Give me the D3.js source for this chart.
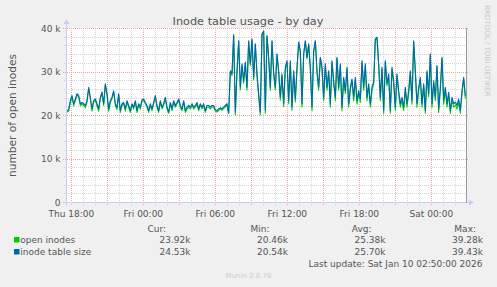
<!DOCTYPE html>
<html>
<head>
<meta charset="utf-8">
<script src="https://cdn.jsdelivr.net/npm/d3@7"></script>
<style>
body { margin: 0; background: #f0f0f0; }
text { font-family: "DejaVu Sans", sans-serif; }
</style>
</head>
<body>
<svg id="chart" width="497" height="287"></svg>
<script>
// values in thousands, one sample every 500 s, the last one at the last update
var openInodes = [
  20.8, 21.0, 23.0, 24.3, 22.2, 23.5, 24.7, 24.3, 22.3, 22.7,
  22.3, 21.8, 23.1, 26.2, 23.8, 21.0, 23.1, 23.5, 22.3, 21.0,
  23.9, 25.1, 22.3, 27.0, 24.7, 21.0, 23.0, 23.9, 25.4, 22.3,
  21.4, 24.7, 20.7, 22.3, 22.7, 21.0, 23.1, 21.9, 20.7, 22.4,
  21.5, 23.1, 20.7, 22.4, 21.5, 23.3, 23.5, 22.7, 21.9, 20.7,
  22.4, 21.1, 22.7, 24.3, 21.9, 20.7, 23.1, 21.5, 22.4, 23.9,
  21.5, 20.5, 22.7, 21.1, 23.1, 21.9, 22.7, 23.5, 21.9, 21.1,
  23.1, 20.7, 21.5, 21.9, 21.5, 22.4, 21.5, 21.9, 22.7, 21.1,
  22.4, 21.5, 22.4, 20.7, 21.9, 21.9, 21.5, 21.9, 22.0, 21.0,
  20.8, 21.2, 21.5, 21.2, 21.6, 22.0, 22.4, 20.46,
  29.9, 29.2, 38.4, 20.1, 29.9, 37.0, 25.9, 31.5, 27.4, 32.0,
  25.8, 37.0, 31.5, 37.4, 28.2, 36.3, 29.1, 24.3, 20.1, 38.6,
  39.28, 20.5, 38.2, 33.0, 25.8, 37.0, 29.4, 25.9, 33.9, 29.8,
  23.5, 29.1, 22.0, 30.7, 32.3, 22.7, 32.2, 21.2, 29.8, 23.1,
  30.7, 36.6, 34.6, 21.9, 33.9, 37.0, 33.0, 36.3, 30.6, 21.1,
  34.6, 37.0, 29.8, 25.8, 33.1, 30.6, 23.4, 31.5, 25.8, 29.8,
  21.9, 32.3, 27.4, 23.4, 33.1, 25.8, 31.5, 21.1, 28.2, 25.0,
  30.7, 21.9, 25.8, 27.9, 23.4, 28.2, 22.6, 25.0, 23.0, 32.3,
  25.8, 31.5, 23.4, 26.8, 21.9, 25.8, 27.2, 37.4, 37.8, 31.5,
  23.4, 30.7, 20.5, 32.3, 26.8, 29.1, 20.5, 30.7, 27.4, 21.1,
  29.1, 25.0, 21.9, 23.5, 21.1, 25.8, 21.9, 25.0, 29.8, 22.6,
  37.0, 29.8, 21.9, 25.8, 28.2, 21.9, 26.8, 20.5, 29.8, 24.3,
  33.9, 21.9, 27.4, 23.4, 31.2, 20.7, 25.8, 33.1, 22.6, 25.8,
  21.9, 24.7, 20.5, 23.5, 21.9, 22.4, 21.5, 23.1, 20.5, 25.1,
  28.4, 23.92
];
var tableSize = [
  21.1, 21.3, 23.4, 24.6, 22.7, 23.8, 25.0, 24.6, 22.7, 23.0,
  22.7, 22.3, 23.4, 26.5, 24.2, 21.5, 23.4, 23.8, 22.7, 21.5,
  24.2, 25.4, 22.7, 27.3, 25.0, 21.5, 23.4, 24.2, 25.7, 22.7,
  21.9, 25.0, 21.1, 22.7, 23.0, 21.5, 23.4, 22.3, 21.1, 22.7,
  21.9, 23.4, 21.1, 22.7, 21.9, 23.6, 23.8, 23.0, 22.3, 21.1,
  22.7, 21.5, 23.0, 24.6, 22.3, 21.1, 23.4, 21.9, 22.7, 24.2,
  21.9, 20.8, 23.0, 21.5, 23.4, 22.3, 23.0, 23.8, 22.3, 21.5,
  23.4, 21.1, 21.9, 22.3, 21.9, 22.7, 21.9, 22.3, 23.0, 21.5,
  22.7, 21.9, 22.7, 21.1, 22.3, 22.3, 21.9, 22.3, 22.3, 21.3,
  21.1, 21.5, 21.8, 21.5, 21.9, 22.3, 22.7, 20.54,
  30.3, 29.6, 38.6, 20.8, 30.3, 37.2, 26.5, 31.9, 28.0, 32.3,
  26.5, 37.2, 31.9, 37.6, 28.8, 36.5, 29.6, 25.0, 20.8, 38.8,
  39.43, 21.2, 38.4, 33.4, 26.5, 37.2, 29.9, 26.5, 34.2, 30.3,
  24.2, 29.6, 22.7, 31.1, 32.6, 23.4, 32.6, 21.9, 30.3, 23.8,
  31.1, 36.9, 34.9, 22.7, 34.2, 37.2, 33.4, 36.5, 31.1, 21.9,
  34.9, 37.2, 30.3, 26.5, 33.4, 31.1, 24.2, 31.9, 26.5, 30.3,
  22.7, 32.6, 28.0, 24.2, 33.4, 26.5, 31.9, 21.9, 28.8, 25.7,
  31.1, 22.7, 26.5, 28.4, 24.2, 28.8, 23.4, 25.7, 23.8, 32.6,
  26.5, 31.9, 24.2, 27.3, 22.7, 26.5, 27.7, 37.6, 38.0, 31.9,
  24.2, 31.1, 21.2, 32.6, 27.3, 29.6, 21.2, 31.1, 28.0, 21.9,
  29.6, 25.7, 22.7, 24.2, 21.9, 26.5, 22.7, 25.7, 30.3, 23.4,
  37.2, 30.3, 22.7, 26.5, 28.8, 22.7, 27.3, 21.2, 30.3, 25.0,
  34.2, 22.7, 28.0, 24.2, 31.5, 21.5, 26.5, 33.4, 23.4, 26.5,
  22.7, 25.4, 21.2, 24.2, 22.7, 23.1, 22.3, 23.8, 21.2, 25.7,
  28.8, 24.53
];
var seriesNames = ["open inodes", "inode table size"];
var seriesColors = ["#00cc00", "#0066b3"];
var statHeads = ["Cur:", "Min:", "Avg:", "Max:"];
var statOpen = ["23.92k", "20.46k", "25.38k", "39.28k"];
var statSize = ["24.53k", "20.54k", "25.70k", "39.43k"];
var yTicks = [0, 10000, 20000, 30000, 40000];
var lastUpdate = new Date(2026, 0, 10, 2, 50, 0);
var stepSec = 500;

var svg = d3.select("#chart");
var n = tableSize.length;
var t0 = new Date(+lastUpdate - (n - 1) * stepSec * 1000);
var x = d3.scaleTime()
	.domain([t0, new Date(+t0 + 400 * 300 * 1000)])
	.range([67, 467]);
var y = d3.scaleLinear().domain([0, 40000]).range([202.5, 28.5]);
var px = function(v) { return Math.floor(v) + 0.5; };

svg.append("rect").attr("width", 497).attr("height", 287).attr("fill", "#f0f0f0");
svg.append("rect")
	.attr("x", 67).attr("y", 28)
	.attr("width", 400).attr("height", 175)
	.attr("fill", "#ffffff");

// grid
var grid = svg.append("g").attr("shape-rendering", "crispEdges");
var hours = x.ticks(d3.timeHour.every(1));
var minorY = d3.range(0, 40001, 2000);

grid.selectAll("line.vmin").data(hours.filter(function(d) { return d.getHours() % 3; }))
	.enter().append("line")
	.attr("x1", function(d) { return px(x(d)); })
	.attr("x2", function(d) { return px(x(d)); })
	.attr("y1", 28).attr("y2", 205)
	.attr("stroke", "#d2d2d2").attr("stroke-dasharray", "1,1");
grid.selectAll("line.hmin").data(minorY.filter(function(d) { return d % 10000; }))
	.enter().append("line")
	.attr("x1", 64).attr("x2", 468)
	.attr("y1", function(d) { return px(y(d)); })
	.attr("y2", function(d) { return px(y(d)); })
	.attr("stroke", "#d2d2d2").attr("stroke-dasharray", "1,1");
grid.selectAll("line.vmaj").data(hours.filter(function(d) { return d.getHours() % 3 == 0; }))
	.enter().append("line")
	.attr("x1", function(d) { return px(x(d)); })
	.attr("x2", function(d) { return px(x(d)); })
	.attr("y1", 28).attr("y2", 206)
	.attr("stroke", "#eda5a5").attr("stroke-dasharray", "1,1");
grid.selectAll("line.hmaj").data(yTicks.filter(function(d) { return d > 0; }))
	.enter().append("line")
	.attr("x1", 63).attr("x2", 469)
	.attr("y1", function(d) { return px(y(d)); })
	.attr("y2", function(d) { return px(y(d)); })
	.attr("stroke", "#eda5a5").attr("stroke-dasharray", "1,1");

// series, green first, blue on top
var series = [openInodes, tableSize];
var line = d3.line()
	.x(function(d, i) { return x(new Date(+t0 + i * stepSec * 1000)); })
	.y(function(d) { return y(d * 1000); });
svg.selectAll("path.series").data(series)
	.enter().append("path")
	.attr("class", "series")
	.attr("d", line)
	.attr("fill", "none")
	.attr("stroke", function(d, i) { return seriesColors[i]; })
	.attr("stroke-width", 1.1)
	.attr("stroke-linejoin", "round");

// axes and frame
var axisCol = "#c9cdf6";
svg.append("line").attr("x1", 63).attr("x2", 469).attr("y1", 202.5).attr("y2", 202.5)
	.attr("stroke", axisCol);
svg.append("path").attr("d", "M469,199.5L474,202.5L469,205.5Z").attr("fill", axisCol);
svg.append("line").attr("x1", 66.5).attr("x2", 66.5).attr("y1", 206).attr("y2", 24)
	.attr("stroke", axisCol);
svg.append("path").attr("d", "M63.5,24L66.5,19L69.5,24Z").attr("fill", axisCol);
svg.append("line").attr("x1", 466.5).attr("x2", 466.5).attr("y1", 28).attr("y2", 203)
	.attr("stroke", "#9a9a9a");

// tick labels
svg.selectAll("text.ylab").data(yTicks)
	.enter().append("text")
	.attr("x", 60.5)
	.attr("y", function(d) { return y(d) + 3.3; })
	.attr("text-anchor", "end")
	.attr("font-size", 9).attr("fill", "#555")
	.text(function(d) { return d == 0 ? "0" : (d / 1000) + " k"; });
var fmt = d3.timeFormat("%a %H:%M");
svg.selectAll("text.xlab").data(hours.filter(function(d) { return d.getHours() % 6 == 0; }))
	.enter().append("text")
	.attr("x", function(d) { return x(d); })
	.attr("y", 216.5)
	.attr("text-anchor", "middle")
	.attr("font-size", 9).attr("fill", "#555")
	.text(fmt);

// titles
svg.append("text").attr("x", 248).attr("y", 25)
	.attr("text-anchor", "middle").attr("font-size", 11.3).attr("fill", "#555")
	.text("Inode table usage - by day");
svg.append("text").attr("transform", "translate(15.5,115.5) rotate(-90)")
	.attr("text-anchor", "middle").attr("font-size", 10.6).attr("fill", "#555")
	.text("number of open inodes");
svg.append("text").attr("transform", "translate(484.5,5) rotate(90)")
	.attr("font-size", 7.1).attr("fill", "#c8c8c8")
	.text("RRDTOOL / TOBI OETIKER");

// legend
var colRight = [166, 269.5, 371.5, 476];
var valRight = [190.5, 288, 385.5, 483];
svg.selectAll("text.head").data(statHeads)
	.enter().append("text")
	.attr("x", function(d, i) { return colRight[i]; })
	.attr("y", 231.5)
	.attr("text-anchor", "end").attr("font-size", 9).attr("fill", "#555")
	.text(function(d) { return d; });
var rows = [statOpen, statSize];
rows.forEach(function(vals, r) {
	var yy = 242.7 + r * 12;
	svg.append("rect").attr("x", 14).attr("y", yy - 5.7)
		.attr("width", 5.5).attr("height", 5.5)
		.attr("fill", seriesColors[r]);
	svg.append("text").attr("x", 20.3).attr("y", yy)
		.attr("font-size", 9).attr("fill", "#555")
		.text(seriesNames[r]);
	svg.selectAll(null).data(vals)
		.enter().append("text")
		.attr("x", function(d, i) { return valRight[i]; })
		.attr("y", yy)
		.attr("text-anchor", "end").attr("font-size", 9).attr("fill", "#555")
		.text(function(d) { return d; });
});
svg.append("text").attr("x", 482.5).attr("y", 266.7)
	.attr("text-anchor", "end").attr("font-size", 9).attr("fill", "#555")
	.text("Last update: Sat Jan 10 02:50:00 2026");
svg.append("text").attr("x", 248.5).attr("y", 277.5)
	.attr("text-anchor", "middle").attr("font-size", 7).attr("fill", "#cccccc")
	.text("Munin 2.0.76");
</script>
</body>
</html>
